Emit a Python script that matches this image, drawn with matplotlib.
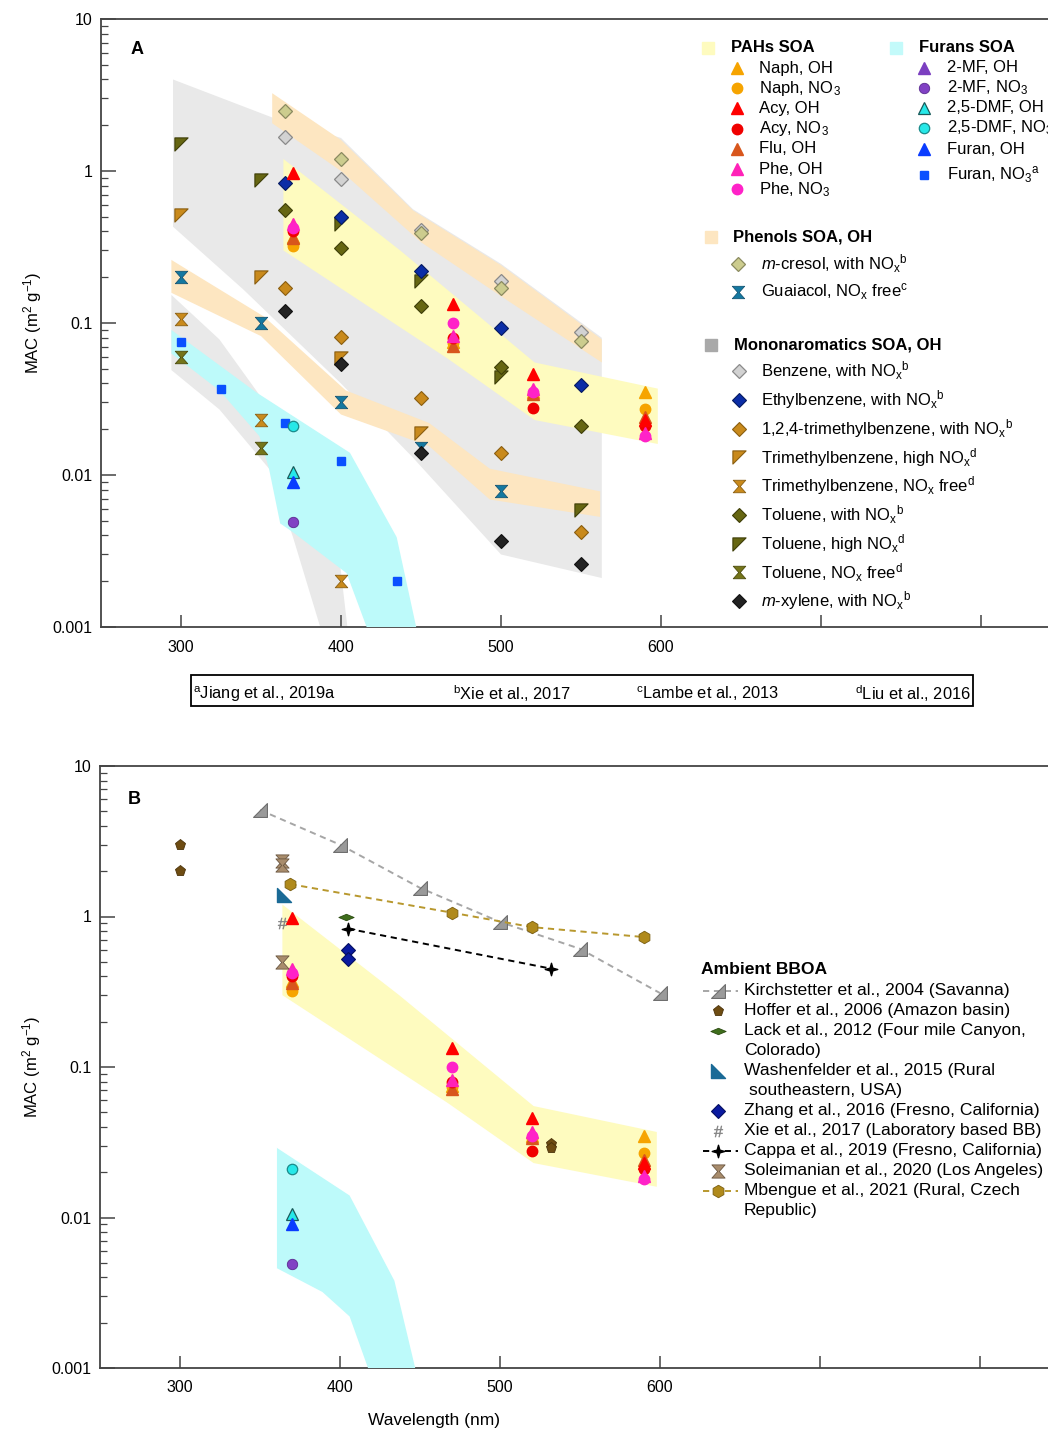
import numpy as np
import matplotlib
matplotlib.use('Agg')
import matplotlib.pyplot as plt
import matplotlib.transforms as mtransforms
from matplotlib.path import Path
from matplotlib.patches import Rectangle
from matplotlib.ticker import LogLocator, NullFormatter

plt.rcParams['font.family'] = ['Liberation Sans', 'DejaVu Sans']
plt.rcParams['mathtext.fontset'] = 'custom'
plt.rcParams['mathtext.rm'] = 'Liberation Sans'
plt.rcParams['mathtext.it'] = 'Liberation Sans:italic'
plt.rcParams['mathtext.bf'] = 'Liberation Sans:bold'

# ---- shaded bands (wavelength nm, MAC m2/g), polygon outlines ----
mono_band_wl = [295, 357, 400, 445, 500, 563, 563, 500, 445, 400, 339, 295]
mono_band_mac = [4.0, 2.25, 1.65, 0.56, 0.245, 0.08, 0.0021, 0.003, 0.013, 0.04, 0.166, 0.43]
mono_free_wl = [294, 324, 347, 395, 404, 387, 370, 356, 324, 294]
mono_free_mac = [0.153, 0.078, 0.036, 0.0065, 0.001, 0.001, 0.0039, 0.0107, 0.027, 0.049]
phenol_hi_wl = [357, 400, 445, 500, 563, 563, 500, 450, 400, 357]
phenol_hi_mac = [3.25, 1.6, 0.55, 0.24, 0.078, 0.055, 0.15, 0.34, 1.0, 2.06]
phenol_lo_wl = [294, 352, 403, 455, 493, 562, 562, 493, 455, 400, 350, 294]
phenol_lo_mac = [0.26, 0.11, 0.036, 0.022, 0.011, 0.0078, 0.0053, 0.0069, 0.0155, 0.025, 0.082, 0.158]
pah_band_wl = [364, 437, 521, 598, 598, 521, 467, 364]
pah_band_mac = [1.2, 0.3, 0.055, 0.037, 0.016, 0.023, 0.058, 0.3]
furan_band_a_wl = [294, 347, 405.6, 434.8, 447, 416, 403.5, 370, 362, 355, 349, 324, 294]
furan_band_a_mac = [0.09, 0.035, 0.014, 0.0039, 0.001, 0.001, 0.00226, 0.0042, 0.0048, 0.011, 0.018, 0.036, 0.063]
furan_band_b_wl = [360.6, 406, 434, 447, 417.5, 406, 389, 360.6]
furan_band_b_mac = [0.029, 0.014, 0.0038, 0.001, 0.001, 0.0022, 0.0032, 0.0046]

# ---- PAHs SOA ----
pah_wl = [370, 470, 520, 590]
naph_oh = [0.37, 0.075, 0.035, 0.035]
naph_no3 = [0.32, 0.074, 0.034, 0.027]
acy_oh = [0.97, 0.133, 0.046, 0.023]
acy_no3 = [0.40, 0.08, 0.0275, 0.021]
flu_oh = [0.36, 0.071, 0.034, 0.024]
phe_oh = [0.45, 0.082, 0.037, 0.019]
phe_no3 = [0.42, 0.10, 0.035, 0.018]

# ---- Furans SOA ----
furan_wl = [370]
mf_no3 = [0.0049]
dmf_oh = [0.0105]
dmf_no3 = [0.021]
furan_oh = [0.009]
furan_no3_wl = [300, 325, 365, 400, 435]
furan_no3 = [0.075, 0.037, 0.022, 0.0124, 0.002]

# ---- Phenols / mononaromatics SOA ----
xie_wl = [365, 400, 450, 500, 550]
mcresol = [2.48, 1.2, 0.39, 0.17, 0.076]
benzene = [1.67, 0.88, 0.41, 0.19, 0.087]
ethylbenzene = [0.83, 0.50, 0.22, 0.093, 0.039]
tmb124 = [0.17, 0.081, 0.032, 0.014, 0.0042]
tol_nox = [0.55, 0.31, 0.13, 0.051, 0.021]
mxylene = [0.12, 0.054, 0.014, 0.0037, 0.0026]
guaiacol_wl = [300, 350, 400, 450, 500]
guaiacol = [0.2, 0.1, 0.03, 0.015, 0.0079]
tmb_high_wl = [300, 350, 400, 450]
tmb_high = [0.51, 0.20, 0.059, 0.019]
tol_high_wl = [300, 350, 400, 450, 500, 550]
tol_high = [1.5, 0.87, 0.45, 0.19, 0.044, 0.0059]
tmb_free_wl = [300, 350, 400]
tmb_free = [0.107, 0.023, 0.002]
tol_free_wl = [300, 350]
tol_free = [0.06, 0.015]

# ---- Ambient BBOA (panel B) ----
kirch_wl = [350, 400, 450, 500, 550, 600]
kirch = [5.1, 3.0, 1.55, 0.92, 0.61, 0.31]
hoffer_wl = [300, 300, 532, 532]
hoffer = [3.0, 2.0, 0.031, 0.029]
lack_wl = [404]
lack = [1.0]
washen_wl = [365]
washen = [1.38]
zhang_wl = [405, 405]
zhang = [0.6, 0.52]
xie_bb_wl = [364]
xie_bb = [0.9]
cappa_wl = [405, 532]
cappa = [0.83, 0.45]
solei_wl = [364, 364, 364]
solei = [2.35, 2.2, 0.5]
mbengue_wl = [369, 470, 520, 590]
mbengue = [1.64, 1.06, 0.85, 0.73]

# ---- custom marker shapes ----
HOURGLASS = Path([(-1, 1), (1, 1), (0.12, 0), (1, -1), (-1, -1), (-0.12, 0), (-1, 1)], closed=True)
TRI_TL = Path([(-1, 1), (1, 1), (-1, -1), (-1, 1)], closed=True)
TRI_BR = Path([(1, -1), (1, 1), (-1, -1), (1, -1)], closed=True)
TRI_BL = Path([(-1, 1), (-1, -1), (1, -1), (-1, 1)], closed=True)
STAR4 = Path([(0, 1), (0.22, 0.22), (1, 0), (0.22, -0.22), (0, -1), (-0.22, -0.22),
              (-1, 0), (-0.22, 0.22), (0, 1)], closed=True)
FLAT_DIAMOND = Path([(-1, 0), (0, 0.42), (1, 0), (0, -0.42), (-1, 0)], closed=True)

STYLE = {
    'naph_oh': dict(marker='^', mfc='#f6a400', mec='#f6a400', ms=8),
    'naph_no3': dict(marker='o', mfc='#f6a400', mec='#f6a400', ms=7.5),
    'acy_oh': dict(marker='^', mfc='#ff0000', mec='#ff0000', ms=8),
    'acy_no3': dict(marker='o', mfc='#f00000', mec='#f00000', ms=7.5),
    'flu_oh': dict(marker='^', mfc='#d8561c', mec='#d8561c', ms=8),
    'phe_oh': dict(marker='^', mfc='#ff22b8', mec='#ff22b8', ms=8),
    'phe_no3': dict(marker='o', mfc='#ff22c8', mec='#ff22c8', ms=7.5),
    'mf_oh': dict(marker='^', mfc='#7b3fc0', mec='#7b3fc0', ms=8),
    'mf_no3': dict(marker='o', mfc='#8142c4', mec='#5a2a90', ms=7.5, mew=0.6),
    'dmf_oh': dict(marker='^', mfc='#26e8e8', mec='#1a5a5a', ms=8, mew=0.9),
    'dmf_no3': dict(marker='o', mfc='#26e8e8', mec='#1a8a8a', ms=7.5, mew=0.9),
    'furan_oh': dict(marker='^', mfc='#0a3cff', mec='#0a3cff', ms=8),
    'furan_no3': dict(marker='s', mfc='#0a50ff', mec='#0a50ff', ms=5.5),
    'mcresol': dict(marker='D', mfc='#cccc8e', mec='#8a8a60', ms=7, mew=0.9),
    'guaiacol': dict(marker=HOURGLASS, mfc='#1478a0', mec='#0a4a6a', ms=9, mew=0.5),
    'benzene': dict(marker='D', mfc='#d2d2d2', mec='#8a8a8a', ms=7, mew=0.9),
    'ethylbenzene': dict(marker='D', mfc='#0b2da6', mec='#061a60', ms=7, mew=0.8),
    'tmb124': dict(marker='D', mfc='#c98a1c', mec='#8a5e10', ms=7, mew=0.8),
    'tmb_high': dict(marker=TRI_TL, mfc='#c98a1c', mec='#8a5e10', ms=9.5, mew=0.8),
    'tmb_free': dict(marker=HOURGLASS, mfc='#c98a1c', mec='#8a5e10', ms=9, mew=0.6),
    'tol_nox': dict(marker='D', mfc='#666612', mec='#3e3e08', ms=7, mew=0.8),
    'tol_high': dict(marker=TRI_TL, mfc='#666612', mec='#3e3e08', ms=9.5, mew=0.8),
    'tol_free': dict(marker=HOURGLASS, mfc='#75751a', mec='#4a4a0a', ms=9, mew=0.6),
    'mxylene': dict(marker='D', mfc='#222222', mec='#111111', ms=7, mew=0.8),
    'kirch': dict(marker=TRI_BR, mfc='#9a9a9a', mec='#6e6e6e', ms=10, mew=0.8, color='#a6a6a6'),
    'hoffer': dict(marker='p', mfc='#6e4c12', mec='#4a320a', ms=8, mew=0.6),
    'lack': dict(marker=FLAT_DIAMOND, mfc='#3f6e1c', mec='#2a4a10', ms=11, mew=0.6),
    'washen': dict(marker=TRI_BL, mfc='#1a6a96', mec='#1a6a96', ms=10),
    'zhang': dict(marker='D', mfc='#0a1aa0', mec='#050f60', ms=7.5, mew=0.8),
    'xie_bb': dict(marker=r'$\#$', mfc='#808080', mec='#808080', ms=8, mew=0.3),
    'cappa': dict(marker=STAR4, mfc='black', mec='black', ms=9, color='black'),
    'solei': dict(marker=HOURGLASS, mfc='#a88c6c', mec='#6a5640', ms=9.5, mew=0.6),
    'mbengue': dict(marker='h', mfc='#b08a1c', mec='#7a5e10', ms=9, mew=0.6, color='#b8982e'),
}

BAND_COLORS = dict(pah='#fefbbf', furan='#bdfafa', phenol='#fde6c1', mono='#e9e9e9')
HEADER_COLORS = dict(pah='#fefbbf', furan='#c3fafa', phenol='#fde6c1', mono='#a9a9a9')

W, H = 1048, 1431
fig = plt.figure(figsize=(W / 100, H / 100), dpi=100)
PX = mtransforms.Affine2D().scale(1 / W, -1 / H).translate(0, 1) + fig.transFigure


def add_axes_px(left, top, right, bottom):
    return fig.add_axes([left / W, 1 - bottom / H, (right - left) / W, (bottom - top) / H])


def style_axis(ax):
    ax.set_yscale('log')
    ax.set_xlim(250, 850)
    ax.set_ylim(1e-3, 10)
    ax.set_yticks([1e-3, 1e-2, 0.1, 1, 10])
    ax.set_yticklabels(['0.001', '0.01', '0.1', '1', '10'])
    ax.yaxis.set_minor_locator(LogLocator(base=10, subs=np.arange(2, 10)))
    ax.yaxis.set_minor_formatter(NullFormatter())
    ax.set_xticks([300, 400, 500, 600, 700, 800])
    ax.set_xticklabels(['300', '400', '500', '600', '', ''])
    ax.tick_params(axis='y', which='major', direction='in', length=11, width=1.1,
                   labelsize=11.5, pad=6, color='#444444')
    ax.tick_params(axis='y', which='minor', direction='in', length=5, width=0.9, color='#444444')
    ax.tick_params(axis='x', which='both', direction='in', length=9, width=1.1,
                   labelsize=11.5, pad=9, color='#444444')
    for sp in ax.spines.values():
        sp.set_color('#444444')
        sp.set_linewidth(1.3)
    ax.set_ylabel(r'MAC (m$^\mathregular{2}$ g$^\mathregular{-1}$)', fontsize=12, labelpad=6)


def pts(ax, wl, mac, key, **kw):
    st = dict(STYLE[key])
    st.pop('color', None)
    ax.plot(wl, mac, linestyle='none', zorder=5, **st, **kw)


def dashed(ax, wl, mac, key):
    st = dict(STYLE[key])
    ax.plot(wl, mac, linestyle=(0, (3.2, 2.4)), lw=1.4, zorder=4, **st)


def band(ax, wl, mac, kind, z=1):
    ax.fill(wl, mac, color=BAND_COLORS[kind], lw=0, zorder=z)


def leg_marker(ax, px, py, key, line=False):
    st = dict(STYLE[key])
    col = st.pop('color', None)
    if line:
        ax.plot([px - 15, px + 20], [py, py], transform=PX, clip_on=False,
                color=col, lw=1.4, linestyle=(0, (3.2, 2.4)), zorder=6)
    ax.plot([px], [py], transform=PX, clip_on=False, linestyle='none', zorder=7, **st)


def leg_text(ax, px, py, txt, bold=False, size=12):
    ax.text(px, py, txt, transform=PX, va='center', ha='left', fontsize=size,
            fontweight='bold' if bold else 'normal', clip_on=False)


def leg_header(ax, px, py, tx, kind, title):
    ax.plot([px], [py], transform=PX, clip_on=False, marker='s', ms=8,
            mfc=HEADER_COLORS[kind], mec=HEADER_COLORS[kind], linestyle='none')
    leg_text(ax, tx, py, title, bold=True)


NOX = r'NO$_\mathregular{x}$'


def nox_ref(letter):
    return NOX + r'$^\mathregular{' + letter + '}$'


def draw_pahs(ax):
    pts(ax, pah_wl, naph_oh, 'naph_oh')
    pts(ax, pah_wl, naph_no3, 'naph_no3')
    pts(ax, pah_wl, flu_oh, 'flu_oh')
    pts(ax, pah_wl, acy_no3, 'acy_no3')
    pts(ax, pah_wl, acy_oh, 'acy_oh')
    pts(ax, pah_wl, phe_oh, 'phe_oh')
    pts(ax, pah_wl, phe_no3, 'phe_no3')


def draw_furans(ax):
    pts(ax, furan_wl, dmf_no3, 'dmf_no3')
    pts(ax, furan_wl, dmf_oh, 'dmf_oh')
    pts(ax, furan_wl, furan_oh, 'furan_oh')
    pts(ax, furan_wl, mf_no3, 'mf_no3')


# ================= Panel A =================
axA = add_axes_px(101, 19, 1061, 627)
style_axis(axA)
band(axA, mono_band_wl, mono_band_mac, 'mono')
band(axA, mono_free_wl, mono_free_mac, 'mono')
band(axA, phenol_hi_wl, phenol_hi_mac, 'phenol', 2)
band(axA, phenol_lo_wl, phenol_lo_mac, 'phenol', 2)
band(axA, pah_band_wl, pah_band_mac, 'pah', 2)
band(axA, furan_band_a_wl, furan_band_a_mac, 'furan', 3)

pts(axA, tmb_high_wl, tmb_high, 'tmb_high')
pts(axA, tol_high_wl, tol_high, 'tol_high')
pts(axA, tmb_free_wl, tmb_free, 'tmb_free')
pts(axA, tol_free_wl, tol_free, 'tol_free')
pts(axA, guaiacol_wl, guaiacol, 'guaiacol')
pts(axA, xie_wl, benzene, 'benzene')
pts(axA, xie_wl, mcresol, 'mcresol')
pts(axA, xie_wl, ethylbenzene, 'ethylbenzene')
pts(axA, xie_wl, tol_nox, 'tol_nox')
pts(axA, xie_wl, tmb124, 'tmb124')
pts(axA, xie_wl, mxylene, 'mxylene')
pts(axA, furan_no3_wl, furan_no3, 'furan_no3')
draw_pahs(axA)
draw_furans(axA)

axA.text(131, 49, 'A', transform=PX, fontsize=13, fontweight='bold', va='center')

# legend, panel A
leg_header(axA, 708, 48, 731, 'pah', 'PAHs SOA')
pah_rows = [('naph_oh', 'Naph, OH'), ('naph_no3', r'Naph, NO$_\mathregular{3}$'),
            ('acy_oh', 'Acy, OH'), ('acy_no3', r'Acy, NO$_\mathregular{3}$'),
            ('flu_oh', 'Flu, OH'), ('phe_oh', 'Phe, OH'), ('phe_no3', r'Phe, NO$_\mathregular{3}$')]
for i, (key, lab) in enumerate(pah_rows):
    y = 68 + i * 20.2
    leg_marker(axA, 737, y, key)
    leg_text(axA, 759, y, lab)

leg_header(axA, 896, 48, 919, 'furan', 'Furans SOA')
fur_rows = [('mf_oh', '2-MF, OH', 68), ('mf_no3', r'2-MF, NO$_\mathregular{3}$', 88),
            ('dmf_oh', '2,5-DMF, OH', 108), ('dmf_no3', r'2,5-DMF, NO$_\mathregular{3}$', 128),
            ('furan_oh', 'Furan, OH', 149),
            ('furan_no3', r'Furan, NO$_\mathregular{3}$$^\mathregular{a}$', 175)]
for key, lab, y in fur_rows:
    leg_marker(axA, 924, y, key)
    leg_text(axA, 947, y, lab)

leg_header(axA, 711, 237, 733, 'phenol', 'Phenols SOA, OH')
leg_marker(axA, 738, 264, 'mcresol')
leg_text(axA, 761, 264, r'$\mathit{m}$-cresol, with ' + nox_ref('b'))
leg_marker(axA, 738, 292, 'guaiacol')
leg_text(axA, 761, 292, 'Guaiacol, ' + NOX + r' free$^\mathregular{c}$')

leg_header(axA, 711, 345, 734, 'mono', 'Mononaromatics SOA, OH')
mono_rows = [('benzene', 'Benzene, with ' + nox_ref('b')),
             ('ethylbenzene', 'Ethylbenzene, with ' + nox_ref('b')),
             ('tmb124', '1,2,4-trimethylbenzene, with ' + nox_ref('b')),
             ('tmb_high', 'Trimethylbenzene, high ' + nox_ref('d')),
             ('tmb_free', 'Trimethylbenzene, ' + NOX + r' free$^\mathregular{d}$'),
             ('tol_nox', 'Toluene, with ' + nox_ref('b')),
             ('tol_high', 'Toluene, high ' + nox_ref('d')),
             ('tol_free', 'Toluene, ' + NOX + r' free$^\mathregular{d}$'),
             ('mxylene', r'$\mathit{m}$-xylene, with ' + nox_ref('b'))]
for i, (key, lab) in enumerate(mono_rows):
    y = 371 + i * 28.75
    leg_marker(axA, 739, y, key)
    leg_text(axA, 761, y, lab)

# reference footnote box
fig.add_artist(Rectangle((191, 675), 782, 31, transform=PX, fill=False, lw=1.3, ec='black'))
refs = [(193, 'a', 'Jiang et al., 2019a'), (453, 'b', 'Xie et al., 2017'),
        (636, 'c', 'Lambe et al., 2013'), (855, 'd', 'Liu et al., 2016')]
for px, sup, name in refs:
    fig.text(px, 694, r'$^\mathregular{' + sup + '}$' + name, transform=PX, va='center',
             ha='left', fontsize=11.8, family=['Liberation Sans Narrow', 'Liberation Sans'])

# ================= Panel B =================
axB = add_axes_px(100, 766, 1060, 1368)
style_axis(axB)
band(axB, pah_band_wl, pah_band_mac, 'pah', 2)
band(axB, furan_band_b_wl, furan_band_b_mac, 'furan', 3)
draw_pahs(axB)
draw_furans(axB)

dashed(axB, kirch_wl, kirch, 'kirch')
dashed(axB, mbengue_wl, mbengue, 'mbengue')
dashed(axB, cappa_wl, cappa, 'cappa')
pts(axB, hoffer_wl, hoffer, 'hoffer')
pts(axB, lack_wl, lack, 'lack')
pts(axB, washen_wl, washen, 'washen')
pts(axB, zhang_wl, zhang, 'zhang')
pts(axB, xie_bb_wl, xie_bb, 'xie_bb')
pts(axB, solei_wl, solei, 'solei')

axB.text(128, 800, 'B', transform=PX, fontsize=13, fontweight='bold', va='center')
axB.text(434, 1420, 'Wavelength (nm)', transform=PX, fontsize=12.5, ha='center', va='center')

BB = 12.6
leg_text(axB, 701, 970, 'Ambient BBOA', bold=True, size=BB)
bb_rows = [('kirch', 'Kirchstetter et al., 2004 (Savanna)', 991, True),
           ('hoffer', 'Hoffer et al., 2006 (Amazon basin)', 1011, False),
           ('lack', 'Lack et al., 2012 (Four mile Canyon,', 1031, False),
           ('washen', 'Washenfelder et al., 2015 (Rural', 1071, False),
           ('zhang', 'Zhang et al., 2016 (Fresno, California)', 1111, False),
           ('xie_bb', 'Xie et al., 2017 (Laboratory based BB)', 1131, False),
           ('cappa', 'Cappa et al., 2019 (Fresno, California)', 1151, True),
           ('solei', 'Soleimanian et al., 2020 (Los Angeles)', 1171, False),
           ('mbengue', 'Mbengue et al., 2021 (Rural, Czech', 1191, True)]
for key, lab, y, line in bb_rows:
    leg_marker(axB, 718, y, key, line=line)
    leg_text(axB, 744, y, lab, size=BB)
leg_text(axB, 744, 1051, 'Colorado)', size=BB)
leg_text(axB, 749, 1091, 'southeastern, USA)', size=BB)
leg_text(axB, 744, 1211, 'Republic)', size=BB)

fig.savefig('out.png', dpi=100)
